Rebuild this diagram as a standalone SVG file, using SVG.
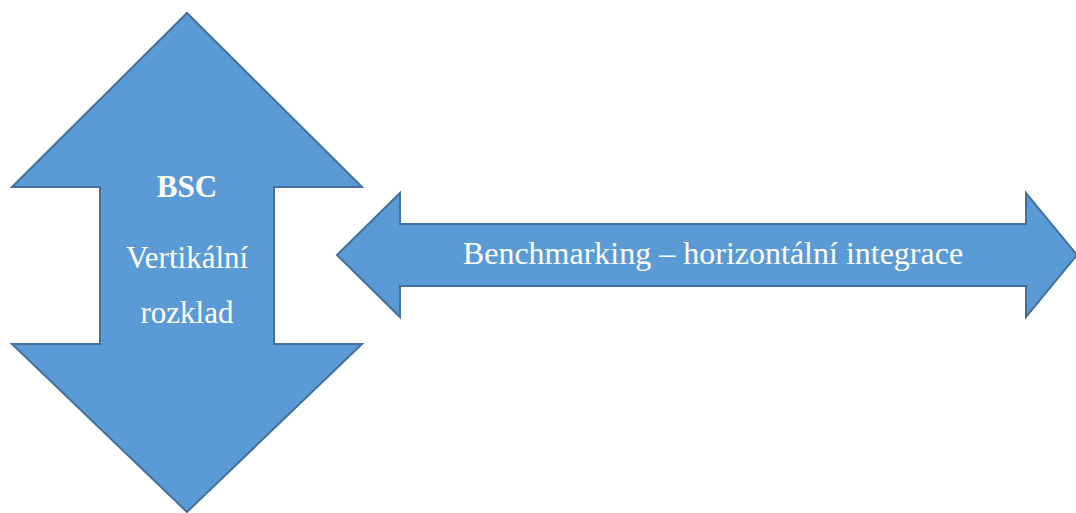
<svg xmlns="http://www.w3.org/2000/svg" width="1076" height="513" viewBox="0 0 1076 513">
<style>
.arrow{fill:#5b9bd5;stroke:#41719c;stroke-width:2;stroke-linejoin:miter}
.t{font-family:"Liberation Serif","Times New Roman",serif;fill:#ffffff;text-anchor:middle}
</style>
<rect width="1076" height="513" fill="#ffffff"/>
<g id="vertical">
<polygon class="arrow" points="187,13 362,187 274,187 274,344 362,344 187,512 12,344 100,344 100,187 12,187"/>
<text class="t" x="187" y="197" font-size="31" font-weight="bold">BSC</text>
<text class="t" x="187" y="268" font-size="31">Vertikální</text>
<text class="t" x="187" y="323" font-size="31">rozklad</text>
</g>
<g id="horizontal">
<polygon class="arrow" points="337,255 400,193 400,224 1026,224 1026,193 1077,255 1026,317 1026,286 400,286 400,317"/>
<text class="t" x="713" y="264" font-size="32">Benchmarking – horizontální integrace</text>
</g>
<g id="connectors"></g>
</svg>
